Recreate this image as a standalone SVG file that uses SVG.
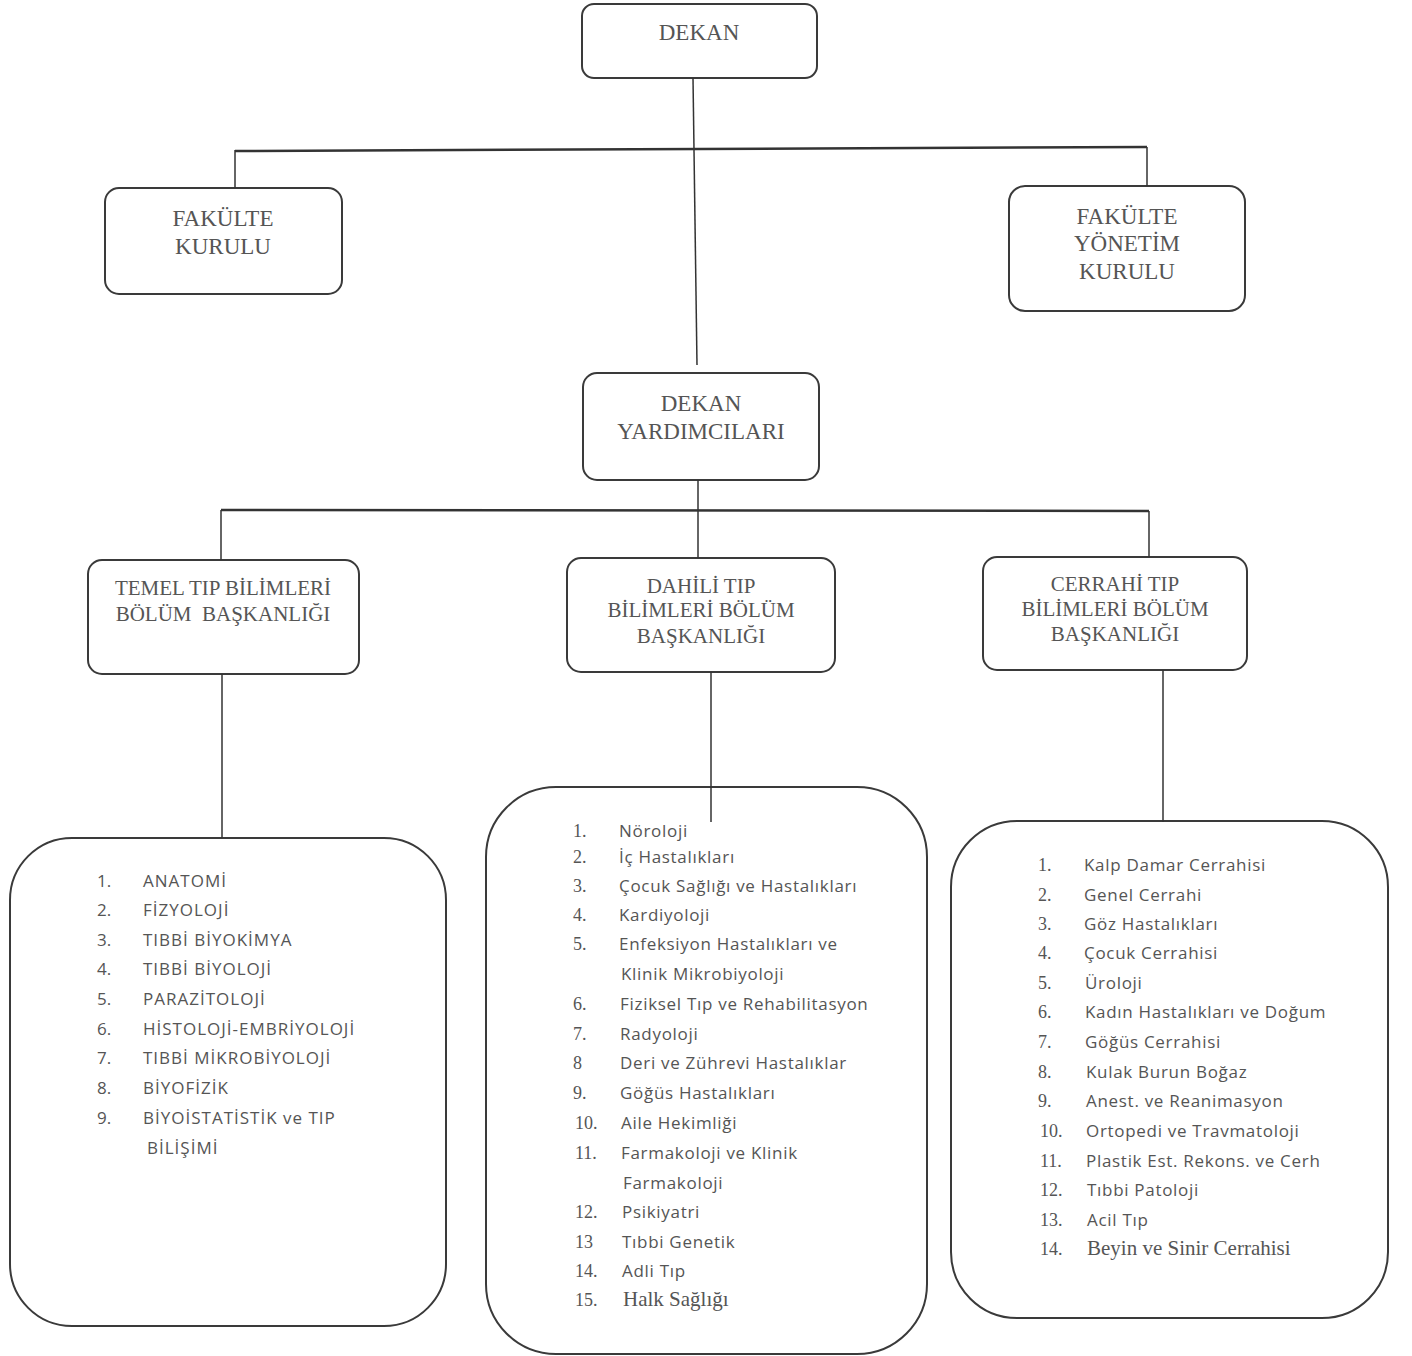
<svg xmlns="http://www.w3.org/2000/svg" width="1412" height="1356" viewBox="0 0 1412 1356">
<style>
.box{fill:#fff;stroke:#3a3a3a;stroke-width:2}
.conn{stroke:#333;stroke-width:1.5;fill:none}
.hconn{stroke:#333;stroke-width:2.5;fill:none}
.ht{font-family:"Liberation Serif",serif;font-size:23px;fill:#555;text-anchor:middle}
.dt{font-family:"Liberation Serif",serif;font-size:21px;fill:#555;text-anchor:middle}
.li{font-family:"Open Sans","Liberation Sans",sans-serif;font-size:17px;fill:#555;letter-spacing:0.7px}
.lc{font-family:"Open Sans","Liberation Sans",sans-serif;font-size:17px;fill:#555;letter-spacing:1px}
.num{font-family:"Liberation Serif",serif;font-size:18px;fill:#555}
.nums{font-family:"Open Sans","Liberation Sans",sans-serif;font-size:17px;fill:#555}
.ser{font-family:"Liberation Serif",serif;font-size:21px;fill:#555}
</style>
<rect width="1412" height="1356" fill="#fff"/>
<g id="dekan">
<rect class="box" x="582" y="4" width="235" height="74" rx="12"/>
<text class="ht" x="699" y="40">DEKAN</text>
</g>
<g id="fakulte-kurulu">
<rect class="box" x="105" y="188" width="237" height="106" rx="14"/>
<text class="ht" x="223" y="226">FAKÜLTE</text>
<text class="ht" x="223" y="254">KURULU</text>
</g>
<g id="fakulte-yonetim-kurulu">
<rect class="box" x="1009" y="186" width="236" height="125" rx="16"/>
<text class="ht" x="1127" y="224">FAKÜLTE</text>
<text class="ht" x="1127" y="251">YÖNETİM</text>
<text class="ht" x="1127" y="279">KURULU</text>
</g>
<g id="dekan-yardimcilari">
<rect class="box" x="583" y="373" width="236" height="107" rx="14"/>
<text class="ht" x="701" y="411">DEKAN</text>
<text class="ht" x="701" y="439">YARDIMCILARI</text>
</g>
<g id="temel">
<rect class="box" x="88" y="560" width="271" height="114" rx="14"/>
<text class="dt" x="223" y="595">TEMEL TIP BİLİMLERİ</text>
<text class="dt" x="223" y="621" xml:space="preserve">BÖLÜM  BAŞKANLIĞI</text>
</g>
<g id="dahili">
<rect class="box" x="567" y="558" width="268" height="114" rx="14"/>
<text class="dt" x="701" y="593">DAHİLİ TIP</text>
<text class="dt" x="701" y="617">BİLİMLERİ BÖLÜM</text>
<text class="dt" x="701" y="643">BAŞKANLIĞI</text>
</g>
<g id="cerrahi">
<rect class="box" x="983" y="557" width="264" height="113" rx="14"/>
<text class="dt" x="1115" y="591">CERRAHİ TIP</text>
<text class="dt" x="1115" y="616">BİLİMLERİ BÖLÜM</text>
<text class="dt" x="1115" y="641">BAŞKANLIĞI</text>
</g>
<g id="temel-list">
<rect class="box" x="10" y="838" width="436" height="488" rx="62"/>
<text class="nums" x="97" y="887">1.</text><text class="lc" x="143" y="887">ANATOMİ</text>
<text class="nums" x="97" y="916">2.</text><text class="lc" x="143" y="916">FİZYOLOJİ</text>
<text class="nums" x="97" y="946">3.</text><text class="lc" x="143" y="946">TIBBİ BİYOKİMYA</text>
<text class="nums" x="97" y="975">4.</text><text class="lc" x="143" y="975">TIBBİ BİYOLOJİ</text>
<text class="nums" x="97" y="1005">5.</text><text class="lc" x="143" y="1005">PARAZİTOLOJİ</text>
<text class="nums" x="97" y="1035">6.</text><text class="lc" x="143" y="1035">HİSTOLOJİ-EMBRİYOLOJİ</text>
<text class="nums" x="97" y="1064">7.</text><text class="lc" x="143" y="1064">TIBBİ MİKROBİYOLOJİ</text>
<text class="nums" x="97" y="1094">8.</text><text class="lc" x="143" y="1094">BİYOFİZİK</text>
<text class="nums" x="97" y="1124">9.</text><text class="lc" x="143" y="1124">BİYOİSTATİSTİK ve TIP</text>
<text class="lc" x="147" y="1154">BİLİŞİMİ</text>
</g>
<g id="dahili-list">
<rect class="box" x="486" y="787" width="441" height="567" rx="70"/>
<text class="num" x="573" y="837">1.</text><text class="li" x="619" y="837">Nöroloji</text>
<text class="num" x="573" y="863">2.</text><text class="li" x="619" y="863">İç Hastalıkları</text>
<text class="num" x="573" y="892">3.</text><text class="li" x="619" y="892">Çocuk Sağlığı ve Hastalıkları</text>
<text class="num" x="573" y="921">4.</text><text class="li" x="619" y="921">Kardiyoloji</text>
<text class="num" x="573" y="950">5.</text><text class="li" x="619" y="950">Enfeksiyon Hastalıkları ve</text>
<text class="li" x="621" y="980">Klinik Mikrobiyoloji</text>
<text class="num" x="573" y="1010">6.</text><text class="li" x="620" y="1010">Fiziksel Tıp ve Rehabilitasyon</text>
<text class="num" x="573" y="1040">7.</text><text class="li" x="620" y="1040">Radyoloji</text>
<text class="num" x="573" y="1069">8</text><text class="li" x="620" y="1069">Deri ve Zührevi Hastalıklar</text>
<text class="num" x="573" y="1099">9.</text><text class="li" x="620" y="1099">Göğüs Hastalıkları</text>
<text class="num" x="575" y="1129">10.</text><text class="li" x="621" y="1129">Aile Hekimliği</text>
<text class="num" x="575" y="1159">11.</text><text class="li" x="621" y="1159">Farmakoloji ve Klinik</text>
<text class="li" x="623" y="1189">Farmakoloji</text>
<text class="num" x="575" y="1218">12.</text><text class="li" x="622" y="1218">Psikiyatri</text>
<text class="num" x="575" y="1248">13</text><text class="li" x="622" y="1248">Tıbbi Genetik</text>
<text class="num" x="575" y="1277">14.</text><text class="li" x="622" y="1277">Adli Tıp</text>
<text class="num" x="575" y="1306">15.</text><text class="ser" x="623" y="1306">Halk Sağlığı</text>
</g>
<g id="cerrahi-list">
<rect class="box" x="951" y="821" width="437" height="497" rx="66"/>
<text class="num" x="1038" y="871">1.</text><text class="li" x="1084" y="871">Kalp Damar Cerrahisi</text>
<text class="num" x="1038" y="901">2.</text><text class="li" x="1084" y="901">Genel Cerrahi</text>
<text class="num" x="1038" y="930">3.</text><text class="li" x="1084" y="930">Göz Hastalıkları</text>
<text class="num" x="1038" y="959">4.</text><text class="li" x="1084" y="959">Çocuk Cerrahisi</text>
<text class="num" x="1038" y="989">5.</text><text class="li" x="1085" y="989">Üroloji</text>
<text class="num" x="1038" y="1018">6.</text><text class="li" x="1085" y="1018">Kadın Hastalıkları ve Doğum</text>
<text class="num" x="1038" y="1048">7.</text><text class="li" x="1085" y="1048">Göğüs Cerrahisi</text>
<text class="num" x="1038" y="1078">8.</text><text class="li" x="1086" y="1078">Kulak Burun Boğaz</text>
<text class="num" x="1038" y="1107">9.</text><text class="li" x="1086" y="1107">Anest. ve Reanimasyon</text>
<text class="num" x="1040" y="1137">10.</text><text class="li" x="1086" y="1137">Ortopedi ve Travmatoloji</text>
<text class="num" x="1040" y="1167">11.</text><text class="li" x="1086" y="1167">Plastik Est. Rekons. ve Cerh</text>
<text class="num" x="1040" y="1196">12.</text><text class="li" x="1087" y="1196">Tıbbi Patoloji</text>
<text class="num" x="1040" y="1226">13.</text><text class="li" x="1087" y="1226">Acil Tıp</text>
<text class="num" x="1040" y="1255">14.</text><text class="ser" x="1087" y="1255">Beyin ve Sinir Cerrahisi</text>
</g>
<g id="connectors">
<line class="conn" x1="693" y1="78" x2="697" y2="365"/>
<line class="hconn" x1="235" y1="151" x2="1147" y2="147"/>
<line class="conn" x1="235" y1="150" x2="235" y2="188"/>
<line class="conn" x1="1147" y1="147" x2="1147" y2="186"/>
<line class="conn" x1="698" y1="480" x2="698" y2="558"/>
<line class="hconn" x1="221" y1="510" x2="1149" y2="511"/>
<line class="conn" x1="221" y1="510" x2="221" y2="560"/>
<line class="conn" x1="1149" y1="511" x2="1149" y2="557"/>
<line class="conn" x1="222" y1="674" x2="222" y2="838"/>
<line class="conn" x1="711" y1="672" x2="711" y2="822"/>
<line class="conn" x1="1163" y1="670" x2="1163" y2="822"/>
</g>
</svg>
